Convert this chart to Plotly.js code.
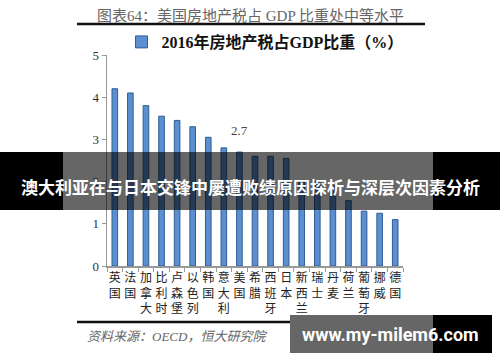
<!DOCTYPE html>
<html>
<head>
<meta charset="utf-8">
<script src="https://cdn.plot.ly/plotly-3.0.1.min.js"></script>
<style>html,body{margin:0;padding:0;background:#fff;}#chart{width:500px;height:362px;}</style>
</head>
<body>
<div id="chart"></div>
<script>
const countries = ["英国","法国","加拿大","比利时","卢森堡","以色列","韩国","意大利","美国","希腊","西班牙","日本","新西兰","瑞士","丹麦","荷兰","葡萄牙","挪威","德国"];
const values = [4.2, 4.1, 3.8, 3.55, 3.45, 3.3, 3.05, 2.8, 2.7, 2.6, 2.6, 2.55, 2.0, 2.0, 1.9, 1.55, 1.3, 1.25, 1.1];
const seriesName = "2016年房地产税占GDP比重（%）";
const yTicks = [0, 1, 2, 3, 4, 5];
const chartTitle = "图表64：美国房地产税占 GDP 比重处中等水平";
const sourceText = "资料来源：OECD，恒大研究院";
const bannerText = "澳大利亚在与日本交锋中屡遭败绩原因探析与深层次因素分析";
const watermarkText = "www.my-milem6.com";
const labelled = "美国";

const serif = "Liberation Serif, Noto Sans CJK SC, serif";
const W = 500, H = 362;
const M = {l: 107, r: 97, t: 55, b: 96};
const pw = W - M.l - M.r, ph = H - M.t - M.b;
const px = x => (x - M.l) / pw;
const py = y => (H - M.b - y) / ph;

const ticktext = countries.map(c => c.split("").join("<br>"));

const trace = {
  type: "bar",
  x: countries,
  y: values,
  name: seriesName,
  width: 0.36,
  marker: {color: "#5b8fd0", line: {color: "#2f5d94", width: 1}},
  showlegend: true
};

const shapes = [
  {type: "line", xref: "paper", yref: "paper", x0: px(77), x1: px(425), y0: py(24), y1: py(24), line: {color: "#111", width: 2.5}},
  {type: "line", xref: "paper", yref: "paper", x0: px(77), x1: px(425), y0: py(322), y1: py(322), line: {color: "#111", width: 2.5}},
  {type: "rect", xref: "paper", yref: "paper", x0: px(63), x1: px(433), y0: py(210), y1: py(152), fillcolor: "rgba(0,0,0,0.6)", line: {width: 0}, layer: "above"},
  {type: "rect", xref: "paper", yref: "paper", x0: px(0), x1: px(63), y0: py(210), y1: py(152), fillcolor: "#000", line: {width: 0}, layer: "above"},
  {type: "rect", xref: "paper", yref: "paper", x0: px(433), x1: px(500), y0: py(210), y1: py(152), fillcolor: "#000", line: {width: 0}, layer: "above"},
  {type: "rect", xref: "paper", yref: "paper", x0: px(290), x1: px(492), y0: py(353), y1: py(315), fillcolor: "#000", line: {width: 0}, layer: "above"},
  {type: "rect", xref: "paper", yref: "paper", x0: px(290), x1: px(433), y0: py(353), y1: py(315), fillcolor: "#666", line: {width: 0}, layer: "above"}
];

const annotations = [
  {xref: "paper", yref: "paper", x: px(250), y: py(15), text: chartTitle, showarrow: false, xanchor: "center", yanchor: "middle", font: {family: serif, size: 15, color: "#666"}},
  {xref: "paper", yref: "paper", x: px(85), y: py(336), text: "<i>" + sourceText + "</i>", showarrow: false, xanchor: "left", yanchor: "middle", font: {family: serif, size: 13, color: "#666"}},
  {xref: "x", yref: "y", x: labelled, y: values[countries.indexOf(labelled)], yshift: 12, text: String(values[countries.indexOf(labelled)]), showarrow: false, xanchor: "center", yanchor: "bottom", font: {family: serif, size: 13, color: "#444"}},
  {xref: "paper", yref: "paper", x: px(250), y: py(186), text: "<b>" + bannerText + "</b>", showarrow: false, xanchor: "center", yanchor: "middle", font: {family: "Noto Sans CJK SC, sans-serif", size: 17, color: "#fff"}},
  {xref: "paper", yref: "paper", x: px(390), y: py(334), text: "<b>" + watermarkText + "</b>", showarrow: false, xanchor: "center", yanchor: "middle", font: {family: "Roboto, Liberation Sans, sans-serif", size: 18, color: "#fff"}}
];

const layout = {
  width: W, height: H,
  margin: M,
  paper_bgcolor: "#fff", plot_bgcolor: "#fff",
  showlegend: true,
  legend: {orientation: "h", x: px(265), y: py(42), xanchor: "center", yanchor: "middle", font: {family: serif, size: 16, color: "#111", weight: "bold"}, itemwidth: 30, bgcolor: "rgba(0,0,0,0)"},
  xaxis: {
    type: "category", range: [-0.5, countries.length - 0.5],
    tickmode: "array", tickvals: countries, ticktext: ticktext,
    tickson: "boundaries", ticks: "outside", ticklen: 4, tickcolor: "#999",
    showline: true, linecolor: "#999", linewidth: 1.5, showgrid: false, zeroline: false,
    tickangle: 0, tickfont: {family: serif, size: 12, color: "#222"}
  },
  yaxis: {
    range: [0, 5], tickmode: "array", tickvals: yTicks, ticks: "outside", ticklen: 4, tickcolor: "#999",
    showline: true, linecolor: "#999", linewidth: 1.5, showgrid: false, zeroline: false,
    tickfont: {family: serif, size: 13, color: "#333"}
  },
  shapes: shapes,
  annotations: annotations
};

Plotly.newPlot("chart", [trace], layout, {displayModeBar: false, staticPlot: true});
</script>
</body>
</html>
